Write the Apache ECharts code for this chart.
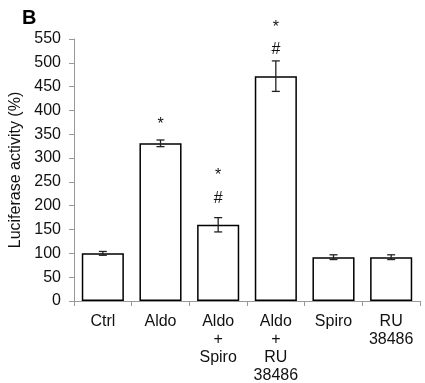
<!DOCTYPE html>
<html><head><meta charset="utf-8">
<script src="https://cdn.jsdelivr.net/npm/echarts@6/dist/echarts.min.js"></script>
<style>html,body{margin:0;padding:0;background:#fff}#c{width:425px;height:383px}</style>
</head><body><div id="c"></div>
<script>
const categories = ['Ctrl', 'Aldo', 'Aldo\n+\nSpiro', 'Aldo\n+\nRU\n38486', 'Spiro', 'RU\n38486'];
const values = [100, 331, 160, 472, 92, 92];
const errors = [4, 7, 15, 32, 5, 5];
const marks = ['', '*', '*\n#', '*\n#', '', ''];
const yTicks = [0, 550, 50];

const chart = echarts.init(document.getElementById('c'), null, {renderer: 'canvas'});
const FONT = 'Liberation Sans, Arial, sans-serif';
// pixel offsets above the error-bar top for the '#' and '*' marks (per bar, style only)
const hashOff = {2: 19, 3: 11};
const starOff = {1: 15, 2: 42, 3: 33};
chart.setOption({
  animation: false,
  graphic: [{type: 'text', left: 22, top: 8, style: {text: 'B', font: 'bold 20px ' + FONT, fill: '#000'}}],
  grid: {left: 74, right: 5, top: 39, bottom: 82, containLabel: false, outerBoundsMode: 'none'},
  xAxis: {
    type: 'category', data: categories,
    axisLine: {lineStyle: {color: '#999', width: 1}},
    axisTick: {show: true, length: 5, alignWithLabel: false, lineStyle: {color: '#999'}},
    axisLabel: {color: '#111', fontFamily: FONT, fontSize: 16, lineHeight: 18, margin: 12, interval: 0}
  },
  yAxis: {
    type: 'value', min: yTicks[0], max: yTicks[1], interval: yTicks[2],
    name: 'Luciferase activity (%)', nameLocation: 'middle', nameGap: 49,
    nameTextStyle: {color: '#111', fontFamily: FONT, fontSize: 16},
    axisLine: {show: true, lineStyle: {color: '#999', width: 1}},
    axisTick: {show: true, length: 5, lineStyle: {color: '#999'}},
    splitLine: {show: false},
    axisLabel: {color: '#111', fontFamily: FONT, fontSize: 16, margin: 13}
  },
  series: [
    {
      type: 'bar', data: values, barCategoryGap: '27%',
      itemStyle: {color: '#fff', borderColor: '#000', borderWidth: 1.5}
    },
    {
      type: 'custom', clip: false, z: 5,
      data: values.map((v, i) => [i, v, errors[i]]),
      renderItem: function (params, api) {
        const i = api.value(0), v = api.value(1), e = api.value(2);
        const top = api.coord([i, v + e]);
        const bot = api.coord([i, v - e]);
        const hw = 4;
        const ls = {stroke: '#222', lineWidth: 1.3};
        const children = [
          {type: 'line', shape: {x1: top[0], y1: top[1], x2: bot[0], y2: bot[1]}, style: ls},
          {type: 'line', shape: {x1: top[0] - hw, y1: top[1], x2: top[0] + hw, y2: top[1]}, style: ls},
          {type: 'line', shape: {x1: bot[0] - hw, y1: bot[1], x2: bot[0] + hw, y2: bot[1]}, style: ls}
        ];
        const m = marks[i];
        if (m.indexOf('#') >= 0) {
          children.push({type: 'text', x: top[0], y: top[1] - hashOff[i], style: {text: '#', font: '16px ' + FONT, fill: '#111', align: 'center', verticalAlign: 'middle'}});
        }
        if (m.indexOf('*') >= 0) {
          children.push({type: 'text', x: top[0], y: top[1] - starOff[i], style: {text: '*', font: '16px ' + FONT, fill: '#111', align: 'center', verticalAlign: 'middle'}});
        }
        return {type: 'group', children: children};
      }
    }
  ]
});
</script></body></html>
